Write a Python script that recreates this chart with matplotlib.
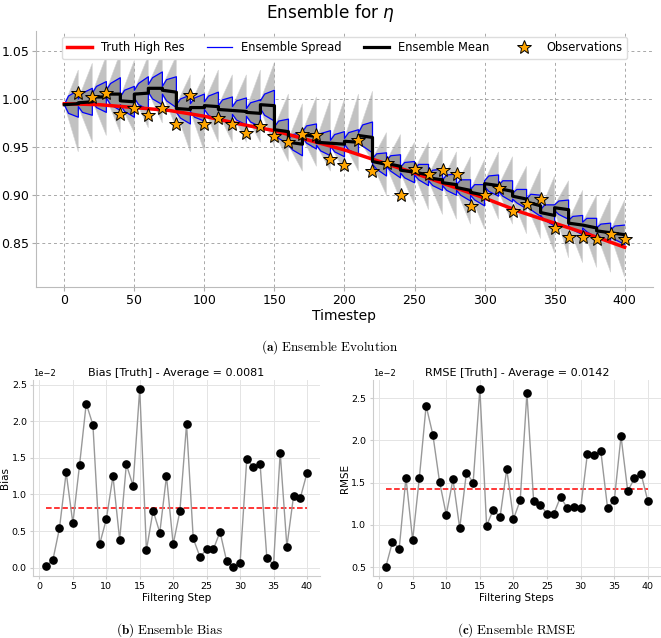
import numpy as np
import matplotlib.pyplot as plt

# ---- top panel data ----
truth_steps = [0, 25, 50, 75, 100, 125, 150, 175, 200, 225, 250, 275, 300, 325, 350, 375, 400]
truth_eta = [0.995, 0.994, 0.991, 0.988, 0.982, 0.974, 0.967, 0.957, 0.947, 0.935, 0.923,
             0.910, 0.897, 0.883, 0.871, 0.859, 0.846]

obs_steps = list(range(10, 401, 10))
obs_eta = [1.006, 1.002, 1.006, 0.984, 0.991, 0.983, 0.991, 0.974, 1.004, 0.974,
           0.980, 0.974, 0.965, 0.972, 0.961, 0.955, 0.964, 0.963, 0.9375, 0.931,
           0.957, 0.925, 0.933, 0.900, 0.927, 0.922, 0.926, 0.922, 0.889, 0.900,
           0.908, 0.884, 0.891, 0.896, 0.866, 0.857, 0.857, 0.855, 0.860, 0.8545]

# ensemble mean right after each analysis and right before the next one
mean_start = [0.994, 0.996, 1.002, 1.005, 0.998, 1.005, 1.011, 1.009, 0.990, 0.991,
              0.993, 0.989, 0.988, 0.986, 0.994, 0.968, 0.955, 0.963, 0.955, 0.954,
              0.956, 0.962, 0.935, 0.933, 0.926, 0.924, 0.918, 0.913, 0.908, 0.903,
              0.912, 0.907, 0.899, 0.893, 0.882, 0.887, 0.871, 0.869, 0.863, 0.861]
mean_end = [0.995, 0.997, 1.002, 1.005, 0.997, 1.006, 1.011, 1.007, 0.989, 0.991,
            0.992, 0.988, 0.987, 0.985, 0.993, 0.966, 0.953, 0.961, 0.954, 0.953,
            0.955, 0.960, 0.932, 0.930, 0.924, 0.921, 0.916, 0.911, 0.905, 0.900,
            0.910, 0.904, 0.896, 0.889, 0.879, 0.885, 0.869, 0.866, 0.861, 0.859]

# half width of the spread (blue) at start, 3 steps in, and end of each cycle
spread_start = [0.000, 0.004, 0.004, 0.004, 0.004, 0.004, 0.004, 0.004, 0.004, 0.004,
                0.004, 0.004, 0.004, 0.004, 0.004, 0.003, 0.003, 0.003, 0.003, 0.003,
                0.003, 0.003, 0.003, 0.003, 0.003, 0.003, 0.003, 0.003, 0.003, 0.003,
                0.003, 0.003, 0.003, 0.003, 0.003, 0.003, 0.003, 0.003, 0.003, 0.003]
spread_mid = [0.009, 0.010, 0.011, 0.011, 0.011, 0.011, 0.011, 0.011, 0.010, 0.010,
              0.010, 0.010, 0.010, 0.010, 0.011, 0.009, 0.008, 0.009, 0.009, 0.009,
              0.009, 0.011, 0.008, 0.008, 0.008, 0.008, 0.008, 0.008, 0.008, 0.008,
              0.008, 0.008, 0.007, 0.008, 0.008, 0.007, 0.007, 0.007, 0.007, 0.007]
spread_end = [0.014, 0.014, 0.016, 0.017, 0.016, 0.017, 0.017, 0.016, 0.015, 0.014,
              0.015, 0.014, 0.014, 0.014, 0.016, 0.013, 0.012, 0.013, 0.013, 0.013,
              0.013, 0.016, 0.012, 0.012, 0.011, 0.011, 0.011, 0.011, 0.011, 0.011,
              0.011, 0.011, 0.010, 0.011, 0.011, 0.010, 0.010, 0.010, 0.010, 0.010]

# extremes of the ensemble members at the end of each cycle
members_max = [1.030, 1.037, 1.045, 1.048, 1.040, 1.045, 1.048, 1.045, 1.025, 1.025,
               1.030, 1.025, 1.025, 1.030, 1.038, 1.005, 0.995, 1.002, 1.000, 1.000,
               1.005, 1.008, 0.965, 0.963, 0.955, 0.955, 0.950, 0.945, 0.940, 0.937,
               0.945, 0.940, 0.930, 0.928, 0.920, 0.915, 0.905, 0.900, 0.898, 0.895]
members_min = [0.945, 0.955, 0.962, 0.965, 0.965, 0.970, 0.975, 0.970, 0.945, 0.945,
               0.955, 0.955, 0.955, 0.955, 0.950, 0.935, 0.925, 0.930, 0.925, 0.925,
               0.925, 0.935, 0.900, 0.895, 0.890, 0.885, 0.880, 0.875, 0.870, 0.865,
               0.875, 0.870, 0.860, 0.855, 0.840, 0.835, 0.830, 0.825, 0.820, 0.815]

# ---- bottom panels data ----
filter_steps = list(range(1, 41))
bias = [0.0003, 0.0010, 0.0054, 0.0130, 0.0061, 0.0140, 0.0224, 0.0195, 0.0032, 0.0066,
        0.0125, 0.0038, 0.0141, 0.0112, 0.0244, 0.0024, 0.0078, 0.0048, 0.0125, 0.0032,
        0.0077, 0.0196, 0.0040, 0.0015, 0.0025, 0.0025, 0.0049, 0.0009, 0.0001, 0.0006,
        0.0148, 0.0138, 0.0141, 0.0014, 0.0004, 0.0157, 0.0029, 0.0098, 0.0095, 0.0129]
rmse = [0.0050, 0.0080, 0.0072, 0.0156, 0.0082, 0.0156, 0.0241, 0.0207, 0.0151, 0.0112,
        0.0154, 0.0096, 0.0162, 0.0150, 0.0261, 0.0099, 0.0118, 0.0109, 0.0166, 0.0107,
        0.0129, 0.0256, 0.0128, 0.0124, 0.0113, 0.0113, 0.0133, 0.0120, 0.0121, 0.0120,
        0.0184, 0.0183, 0.0187, 0.0120, 0.0129, 0.0205, 0.0140, 0.0155, 0.0160, 0.0128]

fig = plt.figure(figsize=(6.61, 6.38), dpi=100)

# ================= top panel =================
ax = fig.add_axes([0.0549, 0.5506, 0.9325, 0.4008])

t_blue, up_blue, lo_blue, t_mean, v_mean = [], [], [], [], []
for k in range(40):
    t0 = obs_steps[k] - 10
    t1 = obs_steps[k]
    ma, mf = mean_start[k], mean_end[k]
    # members (light outer bundle)
    ax.fill([t0, t1, t1, t0],
            [ma + spread_start[k], members_max[k], members_min[k], ma - spread_start[k]],
            color='#c2c2c2', lw=0.4, ec='#d6d6d6', zorder=1)
    # dense core between spread lines
    ax.fill([t0, t0 + 3, t1, t1, t0 + 3, t0],
            [ma + spread_start[k], ma + spread_mid[k], mf + spread_end[k],
             mf - spread_end[k], ma - spread_mid[k], ma - spread_start[k]],
            color='#979797', lw=0, zorder=2)
    t_blue += [t0, t0 + 3, t1]
    up_blue += [ma + spread_start[k], ma + spread_mid[k], mf + spread_end[k]]
    lo_blue += [ma - spread_start[k], ma - spread_mid[k], mf - spread_end[k]]
    t_mean += [t0, t1]
    v_mean += [ma, mf]

ax.plot(truth_steps, truth_eta, color='red', lw=2.5, zorder=4, label='Truth High Res')
ax.plot(t_blue, up_blue, color='blue', lw=0.9, zorder=3, label='Ensemble Spread')
ax.plot(t_blue, lo_blue, color='blue', lw=0.9, zorder=3)
ax.plot(t_mean, v_mean, color='black', lw=2.3, zorder=5, label='Ensemble Mean')
ax.plot(obs_steps, obs_eta, ls='none', marker='*', ms=10.5, mfc='orange', mec='black',
        mew=0.7, zorder=6, label='Observations')

ax.set_xlim(-20, 420)
ax.set_ylim(0.805, 1.0705)
ax.set_xticks(range(0, 401, 50))
ax.set_yticks([0.85, 0.90, 0.95, 1.00, 1.05])
ax.grid(True, ls=(0, (3, 3)), color='#a8a8a8', lw=0.7)
ax.tick_params(labelsize=9, length=3, pad=2, color='#aaaaaa')
for s in ['top', 'right']:
    ax.spines[s].set_visible(False)
for s in ['left', 'bottom']:
    ax.spines[s].set_color('#bbbbbb')
ax.set_xlabel('Timestep', fontsize=10, labelpad=2)
ax.legend(loc='upper center', ncol=4, fontsize=8.3, framealpha=1, edgecolor='#dddddd',
          borderaxespad=0.5, columnspacing=1.9, handlelength=2.2)

fig.text(330 / 661, 1 - 2 / 638, r'Ensemble for $\eta$', ha='center', va='top', fontsize=12.2)
fig.text(330 / 661, 1 - 347 / 638, r'$\mathbf{(a)}\ \mathrm{Ensemble\ Evolution}$',
         ha='center', va='center', fontsize=9.5, math_fontfamily='cm')


def small_panel(rect, values, title, ylabel, xlabel):
    a = fig.add_axes(rect)
    a.plot(filter_steps, values, color='#999999', lw=1, marker='o', ms=5.2,
           mfc='black', mec='black', zorder=3)
    a.plot([filter_steps[0], filter_steps[-1]], [np.mean(values)] * 2, color='red',
           ls='--', lw=1.1, zorder=2)
    a.ticklabel_format(axis='y', style='sci', scilimits=(0, 0))
    a.yaxis.get_offset_text().set_fontsize(6)
    a.set_title(title, fontsize=8, pad=3)
    a.set_ylabel(ylabel, fontsize=7.5, labelpad=1)
    a.set_xlabel(xlabel, fontsize=7.5, labelpad=1)
    a.set_xticks(range(0, 41, 5))
    a.tick_params(labelsize=6.8, length=2.5, color='#cccccc', pad=2)
    a.grid(True, color='#e4e4e4', lw=0.7)
    for s in ['top', 'right']:
        a.spines[s].set_visible(False)
    for s in ['left', 'bottom']:
        a.spines[s].set_color('#cccccc')
    return a


small_panel([0.0500, 0.0972, 0.4341, 0.3072], bias,
            'Bias [Truth] - Average = 0.0081', 'Bias', 'Filtering Step')
small_panel([0.5638, 0.0972, 0.4362, 0.3072], rmse,
            'RMSE [Truth] - Average = 0.0142', 'RMSE', 'Filtering Steps')

fig.text(169 / 661, 1 - 630 / 638, r'$\mathbf{(b)}\ \mathrm{Ensemble\ Bias}$',
         ha='center', va='center', fontsize=9.5, math_fontfamily='cm')
fig.text(516 / 661, 1 - 630 / 638, r'$\mathbf{(c)}\ \mathrm{Ensemble\ RMSE}$',
         ha='center', va='center', fontsize=9.5, math_fontfamily='cm')

fig.savefig('out.png', dpi=100)
